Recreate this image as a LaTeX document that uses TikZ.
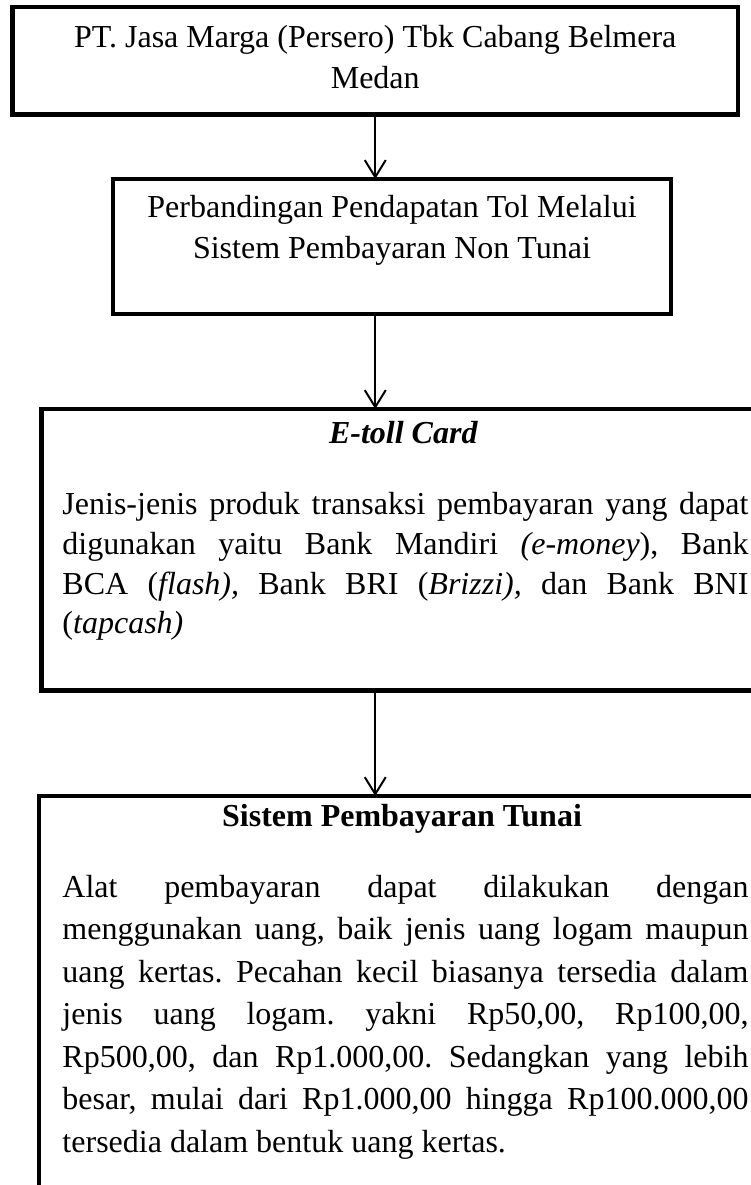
\documentclass[tikz,border=0pt]{standalone}
\usepackage{fontspec}
\setmainfont{Liberation Serif}
\usetikzlibrary{arrows.meta}
\frenchspacing
\hyphenpenalty=10000
\exhyphenpenalty=10000
\tolerance=9999

\begin{document}
\begin{tikzpicture}[x=0.4pt,y=-0.4pt,
  box/.style={draw,line width=1.8pt,inner sep=0pt,outer sep=0pt},
  txt/.style={inner sep=0pt,align=center,font=\fontsize{12.8pt}{16.4pt}\selectfont},
  para/.style={inner sep=0pt,text width=274.4pt,align=justify,
    font=\fontsize{12.8pt}{#1}\selectfont},
  flow/.style={-{Straight Barb[length=6.8pt,width=8.4pt]},line width=0.8pt}]
  \path[fill=white] (0,0) rectangle (751,1185);
  \useasboundingbox (0,0) rectangle (751,1185);
  \clip (0,0) rectangle (751,1185);

  % ---------------- boxes ----------------
  \node[box,minimum width=290.2pt,minimum height=43pt] (branch) at (375.25,60.75) {};
  \node[txt,anchor=north] at ([yshift=-7.1pt]branch.north)
    {PT. Jasa Marga (Persero) Tbk Cabang Belmera\\Medan};

  \node[box,minimum width=223.2pt,minimum height=54pt] (compare) at (392,246.5) {};
  \node[txt,anchor=north] at ([yshift=-6.3pt]compare.north)
    {Perbandingan Pendapatan Tol Melalui\\Sistem Pembayaran Non Tunai};

  % e-toll card, runs past the right edge
  \node[box,minimum width=289.4pt,minimum height=112.6pt] (etoll) at (403.25,549.75) {};
  \node[txt,anchor=base,font=\fontsize{12.8pt}{16.4pt}\selectfont\bfseries\itshape]
    at ([yshift=-13.6pt]etoll.north) {E-toll Card};
  \node[para=15.9pt,anchor=north west] at ([xshift=8.2pt,yshift=-33.2pt]etoll.north west)
    {Jenis-jenis produk transaksi pembayaran yang dapat\linebreak
     digunakan yaitu Bank Mandiri \textit{(e-money}), Bank\linebreak
     BCA (\textit{flash),} Bank BRI (\textit{Brizzi),} dan Bank BNI\linebreak
     (\textit{tapcash)}};

  % cash payment, runs past the right and bottom edges
  \node[box,minimum width=290.4pt,minimum height=185.6pt] (cash) at (402,1028) {};
  \node[txt,anchor=base,font=\fontsize{12.8pt}{16.4pt}\selectfont\bfseries]
    at ([yshift=-12.3pt]cash.north) {Sistem Pembayaran Tunai};
  \node[para=17pt,anchor=north west] at ([xshift=9.2pt,yshift=-31.5pt]cash.north west)
    {Alat pembayaran dapat dilakukan dengan\linebreak
     menggunakan uang, baik jenis uang logam maupun\linebreak
     uang kertas. Pecahan kecil biasanya tersedia dalam\linebreak
     jenis uang logam. yakni Rp50,00, Rp100,00,\linebreak
     Rp500,00, dan Rp1.000,00. Sedangkan yang lebih\linebreak
     besar, mulai dari Rp1.000,00 hingga Rp100.000,00\linebreak
     tersedia dalam bentuk uang kertas.};

  % ---------------- arrows ----------------
  \draw[flow] (branch.south) -- (branch.south |- compare.north);
  \draw[flow] (compare.south -| branch.south) -- (etoll.north -| branch.south);
  \draw[flow] (etoll.south -| branch.south) -- (cash.north -| branch.south);
\end{tikzpicture}
\end{document}
